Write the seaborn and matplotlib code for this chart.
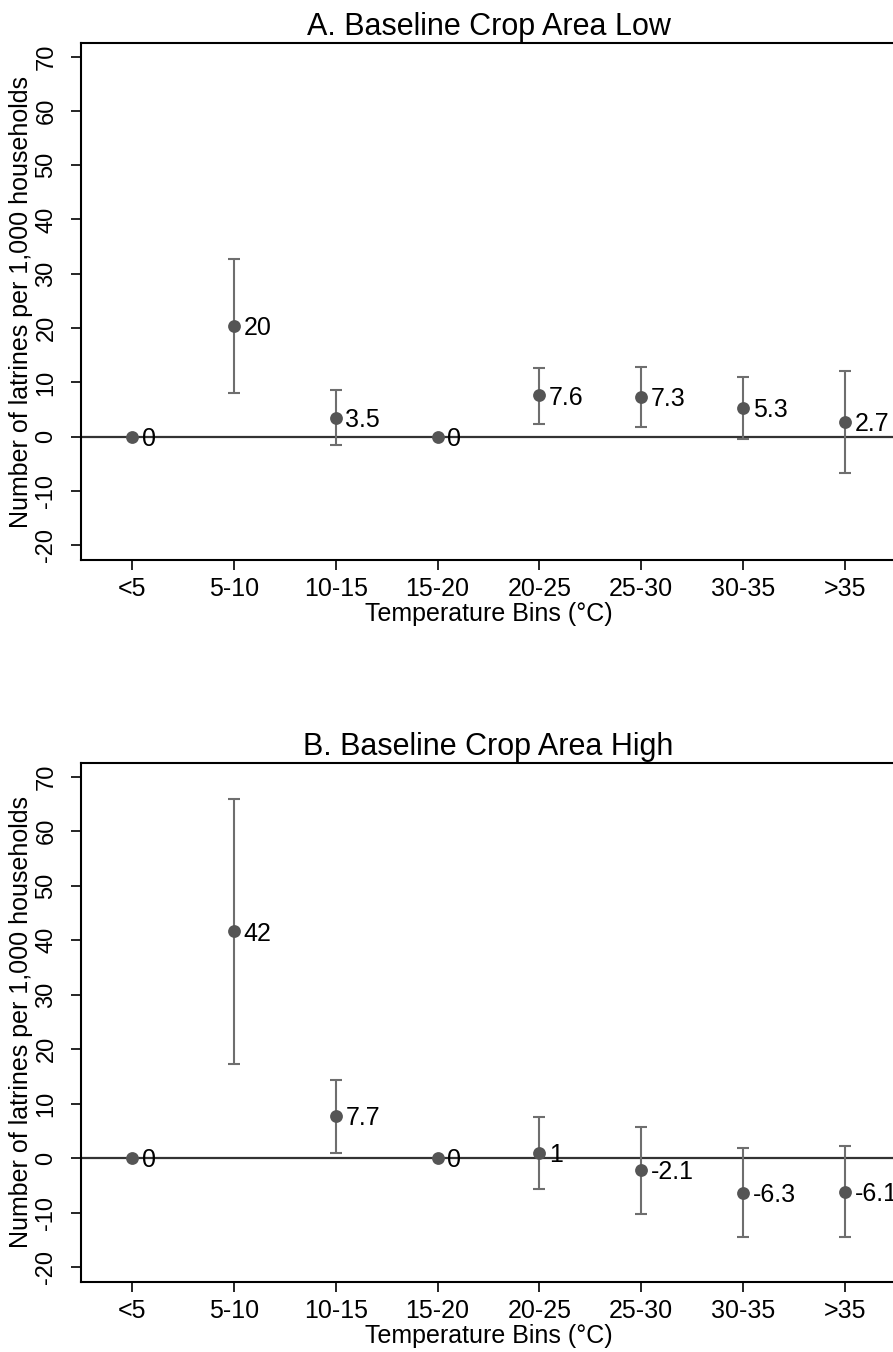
import matplotlib
matplotlib.use("Agg")
import matplotlib.pyplot as plt
import seaborn as sns
import pandas as pd

sns.set_theme(style="white")
plt.rcParams["font.family"] = ["Liberation Sans", "DejaVu Sans"]
plt.rcParams["text.color"] = "black"
plt.rcParams["axes.labelcolor"] = "black"
plt.rcParams["xtick.color"] = "black"
plt.rcParams["ytick.color"] = "black"

bins = ["<5", "5-10", "10-15", "15-20", "20-25", "25-30", "30-35", ">35"]

low_coef = [0.0, 20.4, 3.5, 0.0, 7.6, 7.3, 5.3, 2.7]
low_lo = [None, 8.1, -1.6, None, 2.4, 1.7, -0.5, -6.7]
low_hi = [None, 32.8, 8.6, None, 12.7, 12.8, 11.0, 12.1]

high_coef = [0.0, 41.6, 7.7, 0.0, 1.0, -2.1, -6.3, -6.1]
high_lo = [None, 17.2, 1.05, None, -5.6, -10.2, -14.5, -14.4]
high_hi = [None, 65.9, 14.4, None, 7.6, 5.8, 1.8, 2.2]

yticks = [-20, -10, 0, 10, 20, 30, 40, 50, 60, 70]

W, H = 893, 1352
fig = plt.figure(figsize=(W / 100, H / 100), dpi=100)

panels = [
    ("A. Baseline Crop Area Low", low_coef, low_lo, low_hi, 43, 560),
    ("B. Baseline Crop Area High", high_coef, high_lo, high_hi, 763, 1282),
]

for title, coef, lo, hi, top, bottom in panels:
    left, right = 81, 896
    ax = fig.add_axes([left / W, 1 - bottom / H, (right - left) / W, (bottom - top) / H])
    df = pd.DataFrame({"pos": range(1, len(bins) + 1), "coef": coef, "lo": lo, "hi": hi})

    ax.axhline(0, color="#333333", lw=1.6, zorder=1)

    ci = df.dropna()
    ax.errorbar(ci["pos"], ci["coef"],
                yerr=[ci["coef"] - ci["lo"], ci["hi"] - ci["coef"]],
                fmt="none", ecolor="#6e6e6e", elinewidth=1.5, capsize=4.3,
                capthick=1.5, zorder=2)

    sns.scatterplot(data=df, x="pos", y="coef", ax=ax, color="#555555",
                    s=85, edgecolor="#555555", linewidth=0, zorder=3, legend=False)

    for p, v in zip(df["pos"], df["coef"]):
        ax.annotate(f"{v:.2g}", (p, v), xytext=(7, -1.5), textcoords="offset points",
                    ha="left", va="center", fontsize=18, color="black", zorder=4)

    ax.set_xlim(0.5, 8.5)
    ax.set_ylim(-22.7, 72.5)
    ax.set_xticks(df["pos"])
    ax.set_xticklabels(bins, fontsize=18)
    ax.set_yticks(yticks)
    ax.set_yticklabels([str(t) for t in yticks], fontsize=17, rotation=90, va="center")
    ax.tick_params(axis="both", direction="out", length=7, width=1.2,
                   bottom=True, left=True)
    ax.tick_params(axis="x", pad=5)
    ax.tick_params(axis="y", pad=10)
    ax.set_xlabel("Temperature Bins (°C)", fontsize=18, labelpad=1)
    ax.set_ylabel("Number of latrines per 1,000 households", fontsize=18, labelpad=2)
    ax.set_title(title, fontsize=22, pad=6)
    for s in ax.spines.values():
        s.set_color("black")
        s.set_linewidth(1.5)
    ax.grid(False)

fig.savefig("out.png", dpi=100, facecolor="white")
